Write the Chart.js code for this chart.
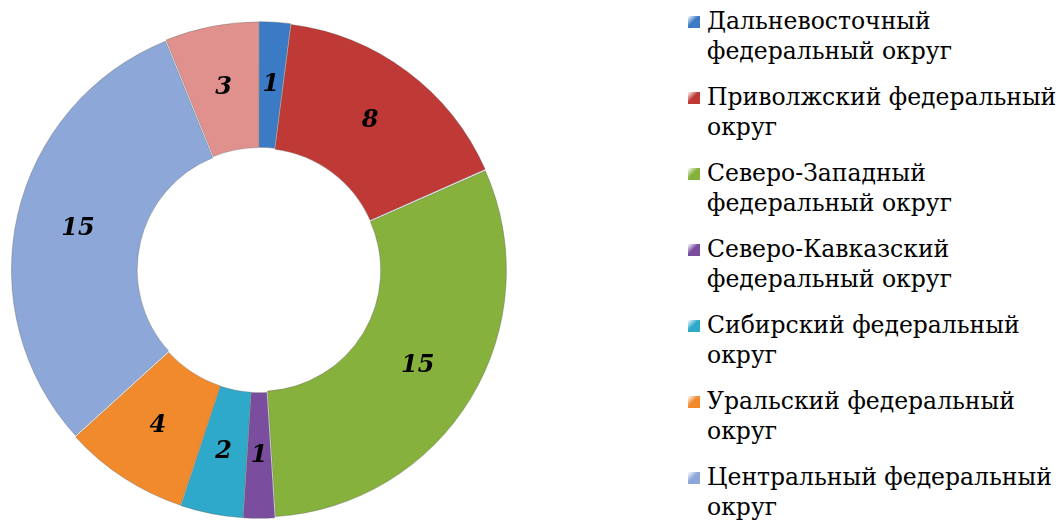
<!DOCTYPE html>
<html>
<head>
<meta charset="utf-8">
<script src="https://cdn.jsdelivr.net/npm/chart.js@4.4.1/dist/chart.umd.min.js"></script>
<style>
    html, body { margin: 0; padding: 0; background: #fff; overflow: hidden; }
    body { width: 1061px; height: 525px; position: relative; }
    #chartBox { position: absolute; left: 0; top: 0; width: 520px; height: 525px; }
    #legend { position: absolute; left: 688px; top: 6px; width: 372px; font-family: "DejaVu Serif", serif; font-size: 23.5px; color: #000; }
    .item { position: relative; padding-left: 19px; line-height: 30px; margin-bottom: 16px; white-space: normal; }
    .item i { position: absolute; left: 0; top: 10px; width: 12px; height: 12px; }
</style>
</head>
<body>
<div id="chartBox"><canvas id="regionChart"></canvas></div>
<div id="legend"></div>
<script>
const labels = [
    'Дальневосточный федеральный округ',
    'Приволжский федеральный округ',
    'Северо-Западный федеральный округ',
    'Северо-Кавказский федеральный округ',
    'Сибирский федеральный округ',
    'Уральский федеральный округ',
    'Центральный федеральный округ',
    'Южный федеральный округ'
];
const counts = [1, 8, 15, 1, 2, 4, 15, 3];
const colors = ['#3b7ac4', '#bf3a37', '#86b13c', '#7a4d9e', '#2fa9c9', '#f08a2c', '#8ca7d8', '#e0918e'];

// numbers on the slices
const sliceLabels = {
    id: 'sliceLabels',
    afterDatasetsDraw(chart) {
        const ctx = chart.ctx;
        const meta = chart.getDatasetMeta(0);
        ctx.save();
        ctx.font = 'italic bold 24px "DejaVu Serif"';
        ctx.fillStyle = '#000';
        ctx.textAlign = 'center';
        ctx.textBaseline = 'middle';
        meta.data.forEach((arc, i) => {
            const p = arc.tooltipPosition();
            ctx.fillText(counts[i], p.x, p.y);
        });
        ctx.restore();
    }
};

function renderLegend() {
    const box = document.getElementById('legend');
    labels.forEach((name, i) => {
        const div = document.createElement('div');
        div.className = 'item';
        div.innerHTML = `<i style="background:linear-gradient(135deg, #fff8 0%, ${colors[i]} 45%, ${colors[i]} 100%)"></i>${name}`;
        box.appendChild(div);
    });
}

renderLegend();

new Chart(document.getElementById('regionChart').getContext('2d'), {
    type: 'doughnut',
    data: {
        labels: labels,
        datasets: [{
            data: counts,
            backgroundColor: colors,
            borderColor: 'rgba(90,90,90,0.35)',
            borderWidth: 1,
            offset: 4
        }]
    },
    options: {
        responsive: true,
        maintainAspectRatio: false,
        animation: false,
        cutout: '49%',
        layout: { padding: { left: 10, right: 12, top: 21, bottom: 6 } },
        plugins: {
            legend: { display: false },
            tooltip: { enabled: false }
        }
    },
    plugins: [sliceLabels]
});
</script>
</body>
</html>
